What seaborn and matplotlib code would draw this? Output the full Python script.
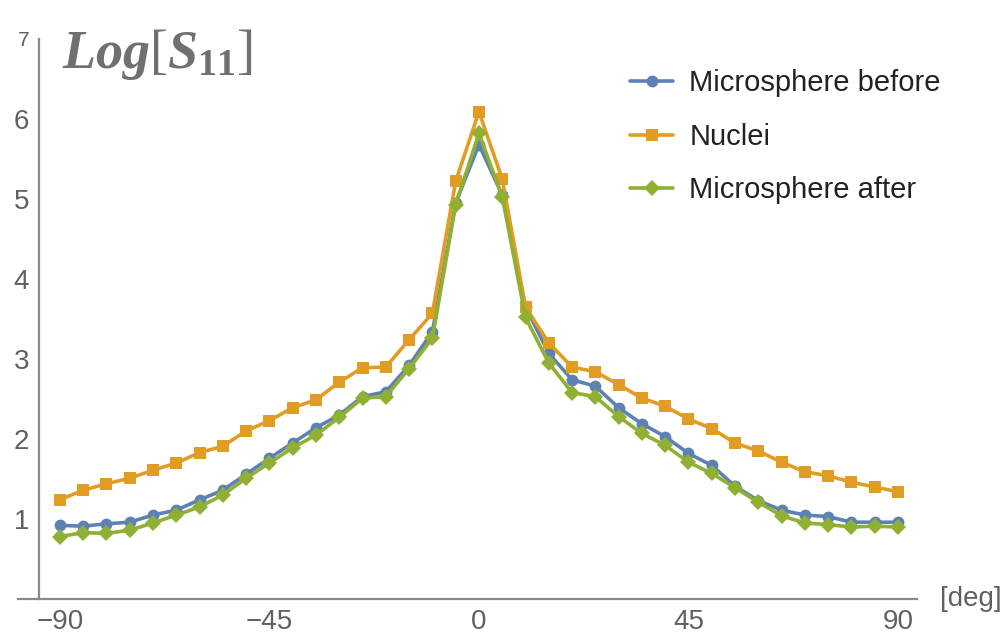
import matplotlib
matplotlib.use("Agg")
import matplotlib.pyplot as plt
import seaborn as sns
import pandas as pd

# Scattering angle (deg) and log of S11 for the three samples
angles = list(range(-90, 91, 5))
series_names = ["Microsphere before", "Nuclei", "Microsphere after"]
microsphere_before = [0.92, 0.91, 0.94, 0.96, 1.05, 1.11, 1.24, 1.36, 1.56, 1.76, 1.95, 2.14,
                      2.30, 2.53, 2.59, 2.92, 3.34, 4.95,
                      5.68,
                      5.05, 3.65, 3.07, 2.74, 2.66, 2.39, 2.19, 2.03, 1.82, 1.67, 1.41, 1.23,
                      1.11, 1.05, 1.03, 0.96, 0.96, 0.96]
nuclei = [1.24, 1.36, 1.44, 1.51, 1.61, 1.70, 1.83, 1.91, 2.10, 2.23, 2.39, 2.49,
          2.71, 2.89, 2.90, 3.24, 3.57, 5.22,
          6.09,
          5.25, 3.65, 3.20, 2.90, 2.84, 2.68, 2.51, 2.41, 2.25, 2.13, 1.95, 1.85,
          1.71, 1.59, 1.54, 1.46, 1.40, 1.34]
microsphere_after = [0.78, 0.83, 0.82, 0.86, 0.95, 1.05, 1.15, 1.30, 1.51, 1.70, 1.89, 2.05,
                     2.27, 2.51, 2.53, 2.88, 3.26, 4.93,
                     5.82,
                     5.03, 3.52, 2.95, 2.58, 2.53, 2.28, 2.07, 1.92, 1.71, 1.57, 1.39, 1.21,
                     1.04, 0.95, 0.93, 0.90, 0.91, 0.90]
x_ticks = [-90, -45, 0, 45, 90]
x_tick_labels = ["\u221290", "\u221245", "0", "45", "90"]
y_ticks = [1, 2, 3, 4, 5, 6, 7]

colors = {"Microsphere before": "#5E81B5", "Nuclei": "#E19C24", "Microsphere after": "#8FB032"}
markers = {"Microsphere before": "o", "Nuclei": "s", "Microsphere after": "D"}

df = pd.DataFrame({
    "angle": angles * 3,
    "value": microsphere_before + nuclei + microsphere_after,
    "series": [s for s, v in zip(series_names, [microsphere_before, nuclei, microsphere_after])
               for _ in v],
})

sns.set_style("white")
plt.rcParams["font.family"] = ["Liberation Sans", "DejaVu Sans"]
plt.rcParams["mathtext.fontset"] = "custom"
plt.rcParams["mathtext.it"] = "Liberation Serif:italic:bold"
plt.rcParams["mathtext.rm"] = "Liberation Serif"
plt.rcParams["mathtext.bf"] = "Liberation Serif:bold"

fig = plt.figure(figsize=(10.04, 6.35), dpi=100)
ax = fig.add_axes([0.0179, 0.0567, 0.8954, 0.8819])

sns.lineplot(data=df, x="angle", y="value", hue="series", style="series",
             hue_order=series_names, style_order=series_names,
             palette=colors, markers=markers, dashes=False,
             linewidth=2.6, markersize=8.5, markeredgewidth=0, ax=ax)

ax.set_xlim(-99, 94.07)
ax.set_ylim(0, 7)
ax.set_xlabel("")
ax.set_ylabel("")

axis_gray = "#8a8a8a"
label_gray = "#606060"
for side in ("top", "right"):
    ax.spines[side].set_visible(False)
ax.spines["left"].set_position(("data", -94.5))
for side in ("left", "bottom"):
    ax.spines[side].set_color(axis_gray)
    ax.spines[side].set_linewidth(1.6)

ax.set_xticks(x_ticks)
ax.set_yticks(y_ticks)
ax.set_xticklabels(x_tick_labels)
ax.tick_params(axis="both", direction="in", length=6, width=1.2, color=axis_gray,
               labelcolor=label_gray, labelsize=20)
ax.tick_params(axis="x", pad=7)
ax.tick_params(axis="y", pad=7)
ax.get_yticklabels()[-1].set_fontsize(15)

# Axis titles
ax.text(0.049, 0.972, r"$Log[S_{\mathbf{11}}]$", transform=ax.transAxes,
        fontsize=39, color="#707070", ha="left", va="center")
ax.text(1.0256, 0.0, "[deg]", transform=ax.transAxes, fontsize=20, color=label_gray,
        ha="left", va="center")

handles, labels = ax.get_legend_handles_labels()
leg = ax.legend(handles, labels, frameon=False, loc="upper left",
                bbox_to_anchor=(0.6016, 0.932), bbox_transform=fig.transFigure,
                fontsize=21, handlelength=1.47, handletextpad=0.55, labelspacing=0.87)
for t in leg.get_texts():
    t.set_color("#222222")

fig.savefig("out.png", dpi=100, facecolor="white")
